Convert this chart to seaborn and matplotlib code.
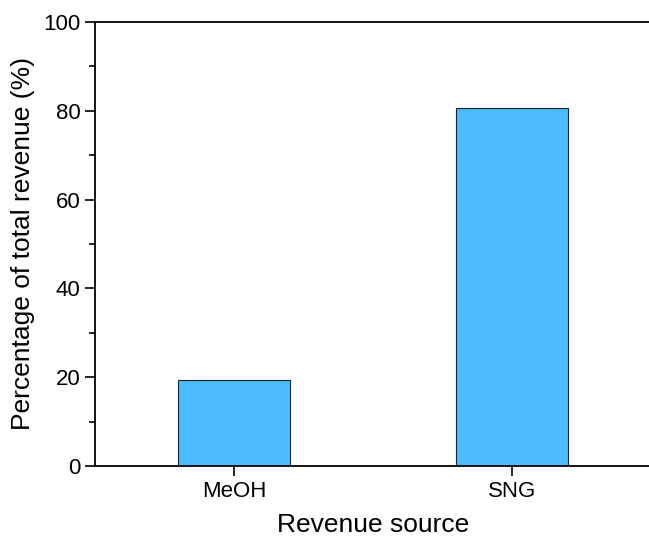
import matplotlib
matplotlib.use("Agg")
import matplotlib.pyplot as plt
from matplotlib.ticker import MultipleLocator
import seaborn as sns
import pandas as pd

sources = ["MeOH", "SNG"]
shares = [19.4, 80.6]

sns.set_theme(style="ticks")
plt.rcParams["font.family"] = ["Liberation Sans", "DejaVu Sans"]
plt.rcParams["text.color"] = "black"
plt.rcParams["axes.labelcolor"] = "black"

df = pd.DataFrame({"source": sources, "share": shares})

fig = plt.figure(figsize=(6.49, 5.37), dpi=100)
ax = fig.add_axes([95 / 649, 71 / 537, 556 / 649, 444 / 537])

sns.barplot(data=df, x="source", y="share", color="#4DBBFF", saturation=1,
            width=0.4, edgecolor="#222222", linewidth=0.8, ax=ax)

ax.set_xlim(-0.5, 1.5)
ax.set_ylim(0, 100)
ax.yaxis.set_major_locator(MultipleLocator(20))
ax.yaxis.set_minor_locator(MultipleLocator(10))
ax.tick_params(axis="both", which="major", direction="out", length=7, width=1.2,
               labelsize=16, color="black", labelcolor="black")
ax.tick_params(axis="y", which="minor", direction="out", length=4, width=1.2, color="black")
for side in ["left", "bottom", "top"]:
    ax.spines[side].set_linewidth(1.3)
    ax.spines[side].set_color("black")
ax.spines["right"].set_visible(False)

ax.set_xlabel("Revenue source", fontsize=19, labelpad=8, color="black")
ax.set_ylabel("Percentage of total revenue (%)", fontsize=19, labelpad=6, color="black")

fig.savefig("out.png", dpi=100)
